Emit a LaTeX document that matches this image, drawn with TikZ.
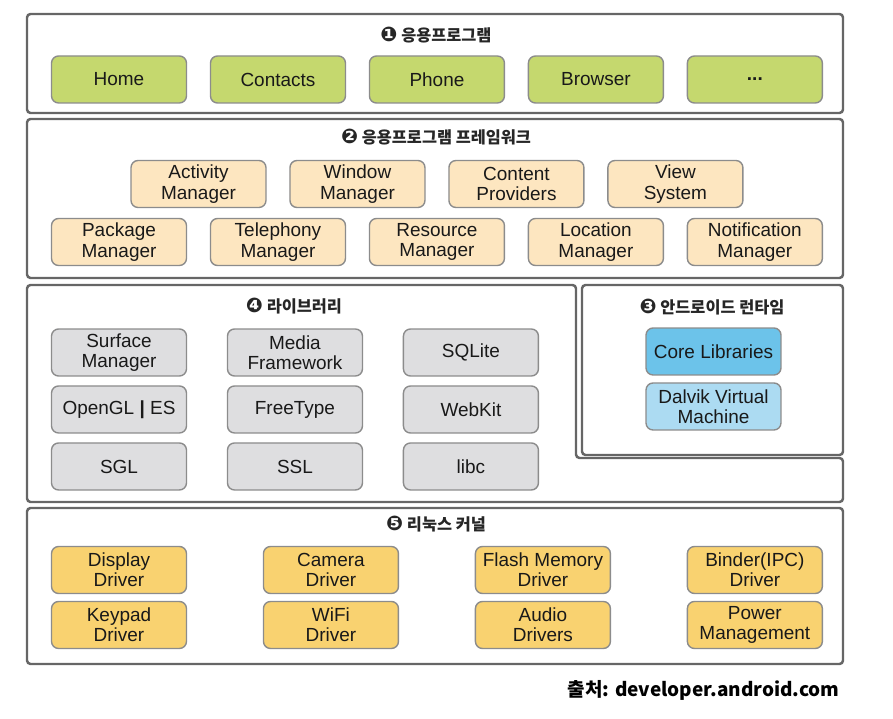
\documentclass[tikz,border=0pt]{standalone}
\usepackage{fontspec}
\setmainfont{Liberation Sans}
\newfontfamily\krfont{Noto Sans CJK KR}
\newfontfamily\symfont{DejaVu Sans}
\usetikzlibrary{positioning, backgrounds}
\definecolor{appgreen}{RGB}{197,216,110}
\definecolor{fwpeach}{RGB}{253,230,192}
\definecolor{libgray}{RGB}{222,222,224}
\definecolor{coreblue}{RGB}{108,195,234}
\definecolor{vmblue}{RGB}{172,219,242}
\definecolor{kernelgold}{RGB}{249,210,112}
\newcommand{\layernum}[1]{{\symfont\fontsize{11.5}{11}\selectfont #1}}
\tikzset{
    layer/.style={draw=black!60, line width=1.4pt, rounded corners=2pt, fill=white},
    box/.style={rectangle, draw=black!45, line width=0.8pt, rounded corners=4pt, outer sep=0pt, minimum width=2.7cm, minimum height=0.94cm, align=center, inner sep=1pt, text=black!90, font=\fontsize{10.8}{11.5}\selectfont},
    appbox/.style={box, fill=appgreen},
    fwbox/.style={box, fill=fwpeach},
    libbox/.style={box, fill=libgray},
    corebox/.style={box, fill=coreblue},
    vmbox/.style={box, fill=vmblue},
    kbox/.style={box, fill=kernelgold},
    title/.style={text=black!85, font=\krfont\bfseries\fontsize{9.3}{11}\selectfont},
}

\begin{document}
\begin{tikzpicture}[x=0.02cm, y=-0.02cm]
    \useasboundingbox (0,0) rectangle (893,719);

    % layers
    \draw[layer] (27,14) rectangle (843,113);
    \draw[layer] (27,119) rectangle (843,278);
    \draw[layer] (27,285) -- (576,285) -- (576,458) -- (843,458) -- (843,502) -- (27,502) -- cycle;
    \draw[layer] (582,285) rectangle (843,455);
    \draw[layer] (27,508) rectangle (843,664);

    % 1 applications
    \node[title] (apptitle) at (436,35) {\layernum{❶} 응용프로그램};
    \node[appbox] (home) at (119,79.5) {Home};
    \node[appbox, right=0.48cm of home] (contacts) {Contacts};
    \node[appbox, right=0.48cm of contacts] (phone) {Phone};
    \node[appbox, right=0.48cm of phone] (browser) {Browser};
    \node[appbox, right=0.48cm of browser] (more) {\textbf{...}};

    % 2 application framework
    \node[title] (fwtitle) at (436,137) {\layernum{❷} 응용프로그램 프레임워크};
    \node[fwbox] (activity) at (198.5,184) {Activity\\Manager};
    \node[fwbox, right=0.48cm of activity] (window) {Window\\Manager};
    \node[fwbox, right=0.48cm of window] (content) {Content\\Providers};
    \node[fwbox, right=0.48cm of content] (view) {View\\System};
    \node[fwbox] (package) at (119,242) {Package\\Manager};
    \node[fwbox, right=0.48cm of package] (telephony) {Telephony\\Manager};
    \node[fwbox, right=0.48cm of telephony] (resource) {Resource\\Manager};
    \node[fwbox, right=0.48cm of resource] (location) {Location\\Manager};
    \node[fwbox, right=0.48cm of location] (notification) {Notification\\Manager};

    % 4 libraries
    \node[title] (libtitle) at (294,306) {\layernum{❹} 라이브러리};
    \node[libbox] (surface) at (119,352.5) {Surface\\Manager};
    \node[libbox, right=0.82cm of surface] (media) {Media\\Framework};
    \node[libbox, right=0.82cm of media] (sqlite) {SQLite};
    \node[libbox, below=0.2cm of surface] (opengl) {OpenGL \textbf{|} ES};
    \node[libbox, right=0.82cm of opengl] (freetype) {FreeType};
    \node[libbox, right=0.82cm of freetype] (webkit) {WebKit};
    \node[libbox, below=0.2cm of opengl] (sgl) {SGL};
    \node[libbox, right=0.82cm of sgl] (ssl) {SSL};
    \node[libbox, right=0.82cm of ssl] (libc) {libc};

    % 3 android runtime
    \node[title] (rttitle) at (712,307) {\layernum{❸} 안드로이드 런타임};
    \node[corebox] (core) at (713.5,351.5) {Core Libraries};
    \node[vmbox, below=0.16cm of core] (dalvik) {Dalvik Virtual\\Machine};

    % 5 linux kernel
    \node[title] (ktitle) at (436,524) {\layernum{❺} 리눅스 커널};
    \node[kbox] (display) at (119,570) {Display\\Driver};
    \node[kbox, right=1.54cm of display] (camera) {Camera\\Driver};
    \node[kbox, right=1.54cm of camera] (flash) {Flash Memory\\Driver};
    \node[kbox, right=1.54cm of flash] (binder) {Binder(IPC)\\Driver};
    \node[kbox, below=0.16cm of display] (keypad) {Keypad\\Driver};
    \node[kbox, right=1.54cm of keypad] (wifi) {WiFi\\Driver};
    \node[kbox, right=1.54cm of wifi] (audio) {Audio\\Drivers};
    \node[kbox, right=1.54cm of audio] (power) {Power\\Management};

    % source
    \node[anchor=east, inner sep=0pt, font=\krfont\bfseries\fontsize{10.8}{13}\selectfont] (source) at (840,690) {출처: developer.android.com};
\end{tikzpicture}
\end{document}
